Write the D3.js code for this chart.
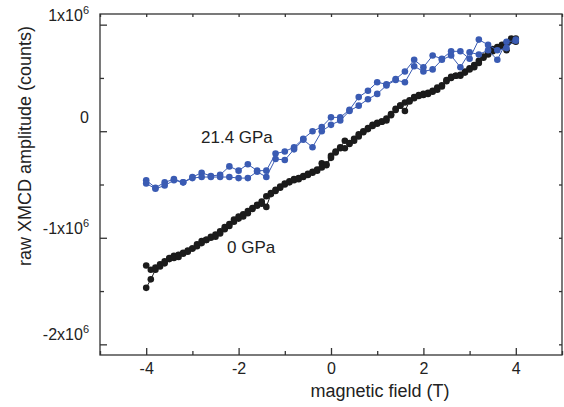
<!DOCTYPE html>
<meta charset="utf-8">
<script src="https://d3js.org/d3.v7.min.js"></script>
<style>
  body { margin: 0; background: #fff; }
  text { font-family: "Liberation Sans", Arial, sans-serif; fill: #222; }
</style>
<body>
<div id="my_dataviz"></div>

<script>
// field values (T)
var fieldBlue = d3.range(41).map(function(i) { return -4 + i * 0.2; });
var fieldBlack = d3.range(81).map(function(i) { return -4 + i * 0.1; });

// 21.4 GPa, in units of 1e6 counts
var blueUp = [-0.46, -0.53, -0.48, -0.45, -0.48, -0.43, -0.39, -0.42, -0.41, -0.33,
  -0.37, -0.31, -0.37, -0.37, -0.21, -0.19, -0.15, -0.07, 0.00, 0.04,
  0.13, 0.13, 0.20, 0.32, 0.38, 0.46, 0.44, 0.49, 0.56, 0.67,
  0.60, 0.71, 0.68, 0.75, 0.75, 0.68, 0.86, 0.81, 0.76, 0.78, 0.86];
var blueDown = [-0.49, -0.54, -0.51, -0.46, -0.48, -0.44, -0.43, -0.43, -0.43, -0.43,
  -0.44, -0.44, -0.38, -0.43, -0.26, -0.27, -0.17, -0.08, -0.15, 0.00,
  0.06, 0.10, 0.19, 0.24, 0.30, 0.35, 0.43, 0.48, 0.46, 0.61,
  0.56, 0.58, 0.67, 0.71, 0.60, 0.74, 0.72, 0.76, 0.67, 0.84, 0.85];

// 0 GPa, in units of 1e6 counts
var blackUp = [-1.26, -1.30, -1.28, -1.25, -1.22, -1.19, -1.17, -1.16, -1.14, -1.12,
  -1.10, -1.06, -1.03, -1.02, -0.99, -0.97, -0.94, -0.90, -0.87, -0.83,
  -0.80, -0.78, -0.75, -0.72, -0.69, -0.66, -0.61, -0.58, -0.55, -0.52,
  -0.49, -0.47, -0.45, -0.44, -0.42, -0.40, -0.38, -0.36, -0.30, -0.31,
  -0.23, -0.19, -0.15, -0.09, -0.11, -0.07, -0.03, 0.00, 0.03, 0.06,
  0.08, 0.09, 0.12, 0.16, 0.21, 0.24, 0.27, 0.29, 0.32, 0.34,
  0.35, 0.36, 0.38, 0.41, 0.43, 0.48, 0.51, 0.52, 0.53, 0.56,
  0.59, 0.62, 0.66, 0.70, 0.74, 0.77, 0.79, 0.81, 0.83, 0.87, 0.87];
var blackDown = [-1.47, -1.39, -1.30, -1.27, -1.24, -1.20, -1.19, -1.18, -1.15, -1.13,
  -1.10, -1.08, -1.05, -1.02, -1.00, -0.99, -0.96, -0.92, -0.89, -0.85,
  -0.82, -0.80, -0.77, -0.73, -0.70, -0.68, -0.71, -0.59, -0.56, -0.53,
  -0.50, -0.48, -0.46, -0.45, -0.43, -0.41, -0.39, -0.37, -0.34, -0.32,
  -0.25, -0.20, -0.16, -0.16, -0.12, -0.09, -0.05, -0.01, 0.02, 0.05,
  0.07, 0.09, 0.10, 0.15, 0.20, 0.24, 0.19, 0.28, 0.31, 0.33,
  0.34, 0.35, 0.37, 0.39, 0.42, 0.47, 0.50, 0.52, 0.52, 0.55,
  0.58, 0.60, 0.64, 0.69, 0.72, 0.75, 0.78, 0.80, 0.76, 0.85, 0.84];

var xTicks = [-4, -2, 0, 2, 4];
var xMinor = [-5, -3, -1, 1, 3, 5];
var yTicks = [1, 0, -1, -2];
var yTickLabels = ["1x10|6", "0", "-1x10|6", "-2x10|6"];
var yMinor = [0.5, -0.5, -1.5];

var width = 564, height = 407;
var plot = {left: 100, right: 562, top: 14, bottom: 355};

var svg = d3.select("#my_dataviz")
  .append("svg")
    .attr("width", width)
    .attr("height", height);

var x = d3.scaleLinear().domain([-5, 5]).range([plot.left, plot.right]);
var y = d3.scaleLinear().domain([-2.1, 1.1]).range([plot.bottom, plot.top]);

var axisColor = "#333";

function styleTicks(g) {
  g.select(".domain").remove();
  g.selectAll("line").attr("stroke", axisColor).attr("stroke-width", 1.3);
}

// frame
svg.append("rect")
  .attr("x", plot.left).attr("y", plot.top)
  .attr("width", plot.right - plot.left).attr("height", plot.bottom - plot.top)
  .attr("fill", "none").attr("stroke", axisColor).attr("stroke-width", 1.3);

// bottom axis, ticks inward (plain hyphen for minus, like the original)
svg.append("g")
  .attr("transform", "translate(0," + plot.bottom + ")")
  .call(d3.axisBottom(x).tickValues(xTicks).tickSize(-7).tickPadding(8)
    .tickFormat(function(d) { return String(d); }))
  .call(styleTicks)
  .call(function(g) {
    g.selectAll("text").attr("font-size", 16).attr("fill", "#222")
      .attr("font-family", "Liberation Sans, Arial, sans-serif");
  });
svg.append("g")
  .attr("transform", "translate(0," + plot.bottom + ")")
  .call(d3.axisBottom(x).tickValues(xMinor).tickSize(-4).tickFormat(""))
  .call(styleTicks);

// top axis, short ticks
svg.append("g")
  .attr("transform", "translate(0," + plot.top + ")")
  .call(d3.axisTop(x).tickValues(xTicks.concat(xMinor)).tickSize(-3).tickFormat(""))
  .call(styleTicks);

// left axis, ticks inward
svg.append("g")
  .attr("transform", "translate(" + plot.left + ",0)")
  .call(d3.axisLeft(y).tickValues(yTicks).tickSize(-7).tickFormat(""))
  .call(styleTicks);
svg.append("g")
  .attr("transform", "translate(" + plot.left + ",0)")
  .call(d3.axisLeft(y).tickValues(yMinor).tickSize(-4).tickFormat(""))
  .call(styleTicks);

// right axis, short ticks
svg.append("g")
  .attr("transform", "translate(" + plot.right + ",0)")
  .call(d3.axisRight(y).tickValues(yTicks.concat(yMinor)).tickSize(-3).tickFormat(""))
  .call(styleTicks);

// y tick labels with superscript exponent (they sit a bit above their ticks)
var yLab = svg.append("g").selectAll("text")
  .data(yTicks)
  .enter().append("text")
    .attr("x", 89)
    .attr("y", function(d) { return y(d) - (d === 0 ? 8 : 4); })
    .attr("text-anchor", "end")
    .attr("font-size", 16);
yLab.each(function(d, i) {
  var parts = yTickLabels[i].split("|");
  var t = d3.select(this);
  t.append("tspan").text(parts[0]);
  if (parts[1]) {
    t.append("tspan").attr("dy", -7).attr("font-size", 11).text(parts[1]);
  }
});

// axis titles
svg.append("text")
  .attr("x", 380).attr("y", 397)
  .attr("text-anchor", "middle")
  .attr("font-size", 18)
  .text("magnetic field (T)");

svg.append("text")
  .attr("transform", "translate(31,146) rotate(-90)")
  .attr("text-anchor", "middle")
  .attr("font-size", 18)
  .text("raw XMCD amplitude (counts)");

// draw one branch: line + dots
function drawBranch(xs, ys, color) {
  var pts = xs.map(function(v, i) { return [v, ys[i]]; });
  svg.append("path")
    .datum(pts)
    .attr("fill", "none")
    .attr("stroke", color)
    .attr("stroke-width", 1)
    .attr("d", d3.line()
      .x(function(d) { return x(d[0]); })
      .y(function(d) { return y(d[1]); }));
  svg.append("g").selectAll("circle")
    .data(pts)
    .enter().append("circle")
      .attr("cx", function(d) { return x(d[0]); })
      .attr("cy", function(d) { return y(d[1]); })
      .attr("r", 3.3)
      .attr("fill", color);
}

var blue = "#3a5bb3";
var black = "#1b1b1b";
drawBranch(fieldBlack, blackUp, black);
drawBranch(fieldBlack, blackDown, black);
drawBranch(fieldBlue, blueUp, blue);
drawBranch(fieldBlue, blueDown, blue);

// annotations
svg.append("text")
  .attr("x", 201).attr("y", 143)
  .attr("font-size", 17)
  .text("21.4 GPa");

svg.append("text")
  .attr("x", 227).attr("y", 253)
  .attr("font-size", 17)
  .text("0 GPa");
</script>
</body>
